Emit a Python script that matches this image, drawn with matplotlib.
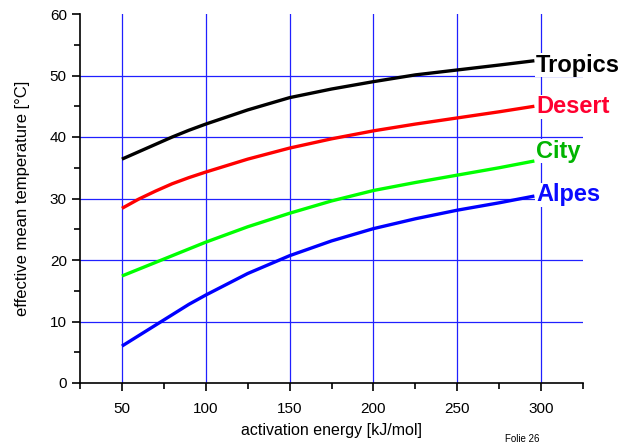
import matplotlib.pyplot as plt
import numpy as np

plt.rcParams['font.family'] = ['Liberation Sans', 'DejaVu Sans']

# activation energy [kJ/mol]
energy = [50, 60, 70, 80, 90, 100, 125, 150, 175, 200, 225, 250, 275, 296]

# effective mean temperature [°C] per climate
tropics = [36.4, 37.6, 38.8, 40.0, 41.1, 42.1, 44.4, 46.4, 47.8, 49.0, 50.1, 50.9, 51.7, 52.4]
desert = [28.4, 29.9, 31.2, 32.4, 33.4, 34.3, 36.4, 38.2, 39.7, 41.0, 42.1, 43.1, 44.1, 45.0]
city = [17.4, 18.5, 19.6, 20.7, 21.8, 22.9, 25.4, 27.6, 29.6, 31.3, 32.6, 33.8, 35.0, 36.1]
alpes = [6.0, 7.7, 9.4, 11.1, 12.8, 14.3, 17.8, 20.7, 23.1, 25.1, 26.7, 28.1, 29.3, 30.4]

names = ['Tropics', 'Desert', 'City', 'Alpes']
series = [tropics, desert, city, alpes]
line_colors = ['black', '#ff0000', '#00ff00', '#0000ff']
text_colors = ['black', '#ff0030', '#00b400', '#0a0aff']
label_y = [51.7, 44.9, 37.7, 30.6]

fig = plt.figure(figsize=(6.28, 4.45), dpi=100)
ax = fig.add_axes([80/628, 62/445, 503/628, 369/445])

# grid
for gx in [50, 100, 150, 200, 250, 300]:
    ax.axvline(gx, color='#2020ff', lw=0.9, zorder=1)
for gy in [10, 20, 30, 40, 50]:
    ax.axhline(gy, color='#2020ff', lw=0.9, zorder=1)

for vals, lc in zip(series, line_colors):
    ax.plot(energy, vals, color=lc, lw=2.4, zorder=3, solid_capstyle='butt')

for name, tc, ly in zip(names, text_colors, label_y):
    ax.text(297, ly, name, color=tc, fontsize=17, fontweight='bold',
            ha='left', va='center', zorder=4,
            bbox=dict(facecolor='white', edgecolor='none', pad=0.5))

ax.set_xlim(25, 325)
ax.set_ylim(0, 60)
ax.set_xticks([50, 100, 150, 200, 250, 300])
ax.set_xticks(np.arange(25, 326, 50), minor=True)
ax.set_yticks(np.arange(0, 61, 10))
ax.set_yticks(np.arange(5, 60, 10), minor=True)

ax.spines['top'].set_visible(False)
ax.spines['right'].set_visible(False)
for s in ['left', 'bottom']:
    ax.spines[s].set_linewidth(1.2)
ax.tick_params(which='major', length=6, width=1.2, labelsize=11, direction='out')
ax.tick_params(which='minor', length=4, width=1.2, direction='out')
ax.tick_params(axis='x', pad=8)

ax.set_xlabel('activation energy [kJ/mol]', fontsize=11.5, labelpad=5)
ax.set_ylabel('effective mean temperature [°C]', fontsize=12, labelpad=14)

fig.text(505/628, 1/445, 'Folie 26', fontsize=7, ha='left', va='bottom')

fig.savefig('out.png', dpi=100)
